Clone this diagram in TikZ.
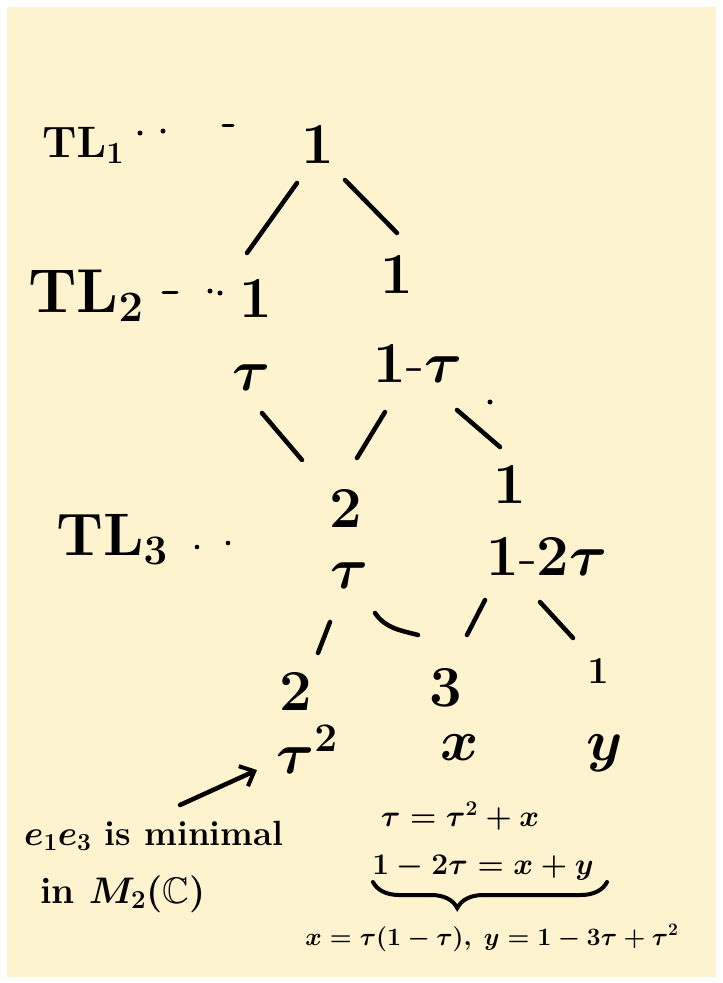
\RequirePackage{fix-cm}
\documentclass[tikz,border=0pt]{standalone}
\usepackage{amssymb}
\DeclareFontFamily{U}{msb}{}
\DeclareFontShape{U}{msb}{m}{n}{<->msbm10}{}
\usetikzlibrary{decorations.pathreplacing,arrows.meta}
\definecolor{paper}{RGB}{253,243,206}
\begin{document}
\begin{tikzpicture}[x=1pt,y=-1pt,
  lbl/.style={inner sep=0pt, anchor=base, font=\fontsize{58}{58}\selectfont\boldmath},
  small/.style={inner sep=0pt, anchor=base, font=\fontsize{38}{38}\selectfont\boldmath},
  tl/.style={inner sep=0pt, anchor=base west},
  note/.style={inner sep=0pt, anchor=base west, font=\fontsize{35}{35}\selectfont\bfseries\boldmath},
  eq/.style={inner sep=0pt, anchor=base, font=\fontsize{30}{30}\selectfont\boldmath},
  edge/.style={line width=4.5pt, line cap=round},
  dashmark/.style={line width=3pt, line cap=round}]
\useasboundingbox (0,0) rectangle (723,983);
\fill[white] (0,0) rectangle (723,983);
\fill[paper] (7,7) rectangle (716,977);

% level labels
\node[tl, font=\fontsize{44}{44}\selectfont\boldmath] (tl1) at (42,157) {$\mathrm{TL}_1$};
\node[tl, font=\fontsize{62}{62}\selectfont\boldmath] (tl2) at (28,312) {$\mathrm{TL}_2$};
\node[tl, font=\fontsize{60}{60}\selectfont\boldmath] (tl3) at (56,555) {$\mathrm{TL}_3$};
\fill (140,133) circle (2.5);
\fill (163,131) circle (2.5);
\draw[dashmark] (223,125) -- (233,125);
\draw[dashmark] (163,292) -- (177,292);
\fill (210,291) circle (2.5);
\fill (220,293) circle (2.5);
\fill (197,547) circle (2.3);
\fill (228,543) circle (2.3);

% tree nodes
\node[lbl] (n1) at (318,163) {$1$};
\node[lbl] (a1) at (256,317) {$1$};
\node[lbl] (b1) at (397,293) {$1$};
\node[lbl] (a2) at (252,390) {$\tau$};
\node[lbl] (b2) at (418,382) {$1\mbox{-}\tau$};
\node[lbl] (c1) at (346,527) {$2$};
\node[lbl] (c2) at (350,588) {$\tau$};
\node[lbl] (d1) at (510,503) {$1$};
\node[lbl] (d2) at (547,575) {$1\mbox{-}2\tau$};
\node[lbl] (e1) at (296,710) {$2$};
\node[lbl] (f1) at (446,706) {$3$};
\node[small] (g1) at (598,683) {$1$};
\node[lbl] (e2) at (307,773) {$\tau^2$};
\node[lbl] (f2) at (460,760) {$x$};
\node[lbl] (g2) at (605,760) {$y$};

% edges
\draw[edge] ([shift={(-21,20)}]n1.base) -- ([shift={(-9,-64)}]a1.base);
\draw[edge] ([shift={(27,17)}]n1.base) -- ([shift={(0,-60)}]b1.base);
\draw[edge] ([shift={(10,23)}]a2.base) -- ([shift={(-44,-67)}]c1.base);
\draw[edge] ([shift={(-33,30)}]b2.base) -- ([shift={(11,-69)}]c1.base);
\draw[edge] ([shift={(39,28)}]b2.base) -- ([shift={(-10,-56)}]d1.base);
\fill ([shift={(72,20)}]b2.base) circle (2.5);
\draw[edge] ([shift={(-20,34)}]c2.base) -- ([shift={(22,-57)}]e1.base);
\draw[edge] ([shift={(25,25)}]c2.base) to[out=-55,in=165] ([shift={(-28,-71)}]f1.base);
\draw[edge] ([shift={(-62,25)}]d2.base) -- ([shift={(21,-71)}]f1.base);
\draw[edge] ([shift={(-7,27)}]d2.base) -- ([shift={(-25,-45)}]g1.base);

% arrow and annotation
\coordinate (arrS) at (180,805);
\draw[edge, -{Straight Barb[length=12pt,width=22pt,line width=4pt]}] (arrS) -- ([shift={(-50,-3)}]e2.base);
\node[note] (m1) at (24,845) {$e_1e_3$ is minimal};
\node[note, font=\fontsize{37}{37}\selectfont\bfseries\boldmath] (m2) at (40,903) {in $M_2(\mathbb{C})$};

% equations
\node[eq] (q1) at (460,826) {$\tau=\tau^2+x$};
\node[eq] (q2) at (483,874) {$1-2\tau=x+y$};
\coordinate (brL) at (373,882);
\coordinate (brR) at (607,882);
\draw[line width=4pt, line cap=round, decorate, decoration={brace,mirror,amplitude=26pt,aspect=0.36}] (brL) -- (brR);
\node[eq, font=\fontsize{25}{25}\selectfont\boldmath] (q3) at (492,945) {$x=\tau(1-\tau),\ y=1-3\tau+\tau^2$};
\end{tikzpicture}
\end{document}
